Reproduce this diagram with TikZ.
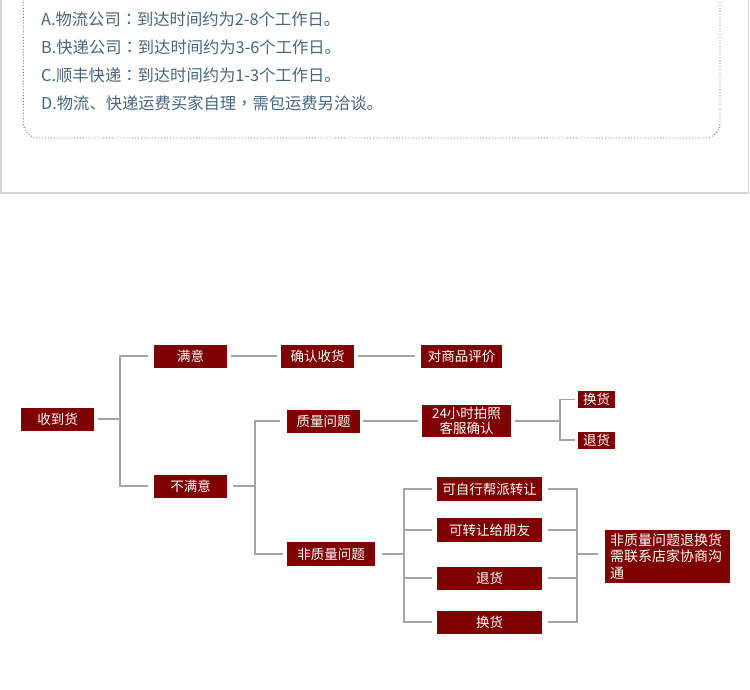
\documentclass[tikz,border=0pt]{standalone}
\usepackage{fontspec}
\newfontfamily\cjk{Noto Sans CJK SC}
\newfontfamily\cjktc{Noto Sans CJK TC}
\definecolor{boxred}{RGB}{126,0,0}
\definecolor{linegray}{RGB}{165,165,165}
\definecolor{txtblue}{RGB}{72,102,128}
\definecolor{dotcol}{RGB}{95,115,130}
\definecolor{framegray}{RGB}{214,214,214}
\newcommand{\tcp}[1]{{\cjktc #1}}
\begin{document}
\begin{tikzpicture}[x=1pt,y=-1pt,
  box/.style={fill=boxred,text=white,inner sep=0pt,font=\cjk\fontsize{13.5}{15}\selectfont},
  conn/.style={draw=linegray,line width=1.1pt},
  info/.style={anchor=west,text=txtblue,inner sep=0pt,font=\cjk\fontsize{16.3}{18}\selectfont}]
\useasboundingbox (0,0) rectangle (750,689);
\fill[white] (0,0) rectangle (750,689);
% top panel
\draw[framegray,line width=1.2pt] (1,-10) rectangle (748.5,193);
\draw[dotcol,dotted,line width=0.9pt,rounded corners=15pt] (23.5,-30) rectangle (720,138);
\node[info] (ta) at (41,19) {A.物流公司\tcp{：}到达时间约为2-8个工作日。};
\node[info] (tb) at (41,47) {B.快递公司\tcp{：}到达时间约为3-6个工作日。};
\node[info] (tc) at (41,75) {C.顺丰快递\tcp{：}到达时间约为1-3个工作日。};
\node[info] (td) at (41,103) {D.物流、快递运费买家自理\tcp{，}需包运费另洽谈。};
% nodes
\node[box,minimum width=73pt,minimum height=23pt] (shd) at (57.5,419) {收到货};
\node[box,minimum width=73pt,minimum height=23pt] (my) at (190.5,356) {满意};
\node[box,minimum width=73pt,minimum height=23pt] (bmy) at (190.5,486) {不满意};
\node[box,minimum width=73pt,minimum height=23pt] (qr) at (317.5,356) {确认收货};
\node[box,minimum width=81pt,minimum height=23pt] (pj) at (461.5,356) {对商品评价};
\node[box,minimum width=73pt,minimum height=23pt] (zl) at (323.5,421) {质量问题};
\node[box,minimum width=89pt,minimum height=32pt,align=center,font=\cjk\fontsize{13.5}{14.5}\selectfont] (h24) at (466.5,421) {24小时拍照\\客服确认};
\node[box,minimum width=37pt,minimum height=17pt] (hh1) at (596.5,399.5) {换货};
\node[box,minimum width=37pt,minimum height=17pt] (th1) at (596.5,440) {退货};
\node[box,minimum width=88pt,minimum height=24pt] (fzl) at (331,554) {非质量问题};
\node[box,minimum width=105pt,minimum height=24pt] (kz1) at (489.5,489) {可自行帮派转让};
\node[box,minimum width=105pt,minimum height=24pt] (kz2) at (489.5,530) {可转让给朋友};
\node[box,minimum width=105pt,minimum height=23pt] (th2) at (489.5,578) {退货};
\node[box,minimum width=105pt,minimum height=23pt] (hh2) at (489.5,622) {换货};
\node[box,minimum height=53pt,text width=115pt,inner xsep=5pt,align=left,font=\cjk\fontsize{14}{16.5}\selectfont] (big) at (667.5,556.5) {非质量问题退换货\\需联系店家协商沟\\通};
% junctions
\coordinate (j1) at (120,419);
\coordinate (j2) at (255,486);
\coordinate (j3) at (560,421);
\coordinate (j4) at (404,554);
\coordinate (j5) at (577,554);
% connectors
\draw[conn] ([xshift=4pt]shd.east) -- (j1);
\draw[conn] ([xshift=-6pt]my.west) -| (j1);
\draw[conn] ([xshift=-6pt]bmy.west) -| (j1);
\draw[conn] ([xshift=4pt]my.east) -- ([xshift=-4pt]qr.west);
\draw[conn] ([xshift=4pt]qr.east) -- ([xshift=-6pt]pj.west);
\draw[conn] ([xshift=6pt]bmy.east) -- (j2);
\draw[conn] ([xshift=-7pt]zl.west) -| (j2);
\draw[conn] ([xshift=-4pt]fzl.west) -| (j2);
\draw[conn] ([xshift=3pt]zl.east) -- ([xshift=-4pt]h24.west);
\draw[conn] ([xshift=4pt]h24.east) -- (j3);
\draw[conn] ([xshift=-3pt]hh1.west) -| (j3);
\draw[conn] ([xshift=-3pt]th1.west) -| (j3);
\draw[conn] ([xshift=7pt]fzl.east) -- (j4);
\draw[conn] ([xshift=-5pt]kz1.west) -| (j4);
\draw[conn] ([xshift=-5pt]kz2.west) -| (j4);
\draw[conn] ([xshift=-5pt]th2.west) -| (j4);
\draw[conn] ([xshift=-5pt]hh2.west) -| (j4);
\draw[conn] ([xshift=6pt]kz1.east) -| (j5);
\draw[conn] ([xshift=6pt]kz2.east) -| (j5);
\draw[conn] ([xshift=6pt]th2.east) -| (j5);
\draw[conn] ([xshift=6pt]hh2.east) -| (j5);
\draw[conn] (j5) -- ([xshift=-7pt,yshift=2.5pt]big.west);
\end{tikzpicture}
\end{document}
